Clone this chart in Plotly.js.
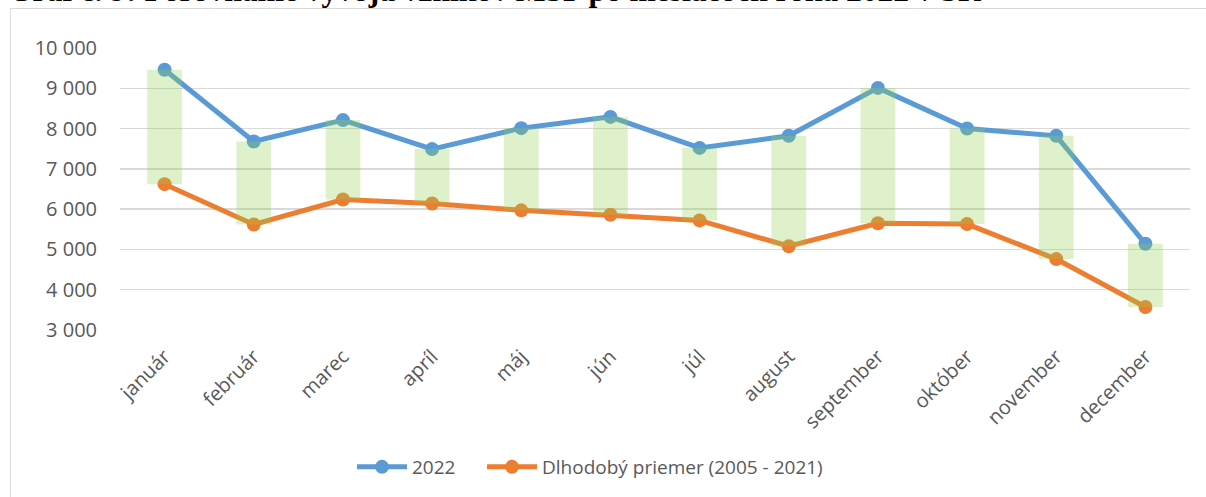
<!DOCTYPE html>
<html>
<head>
<meta charset="utf-8">
<script src="https://cdn.plot.ly/plotly-3.0.1.min.js"></script>
<style>html,body{margin:0;padding:0;background:#fff;}</style>
</head>
<body>
<div id="chart" style="width:1206px;height:497px;"></div>
<script>
const titleText = 'Graf č. 9: Porovnanie vývoja vznikov MSP po mesiacoch roka 2022 v SR';
const months = ['január','február','marec','apríl','máj','jún','júl','august','september','október','november','december'];
const series2022 = [9460, 7680, 8210, 7490, 8010, 8290, 7520, 7820, 9010, 8000, 7820, 5140];
const seriesAvg = [6620, 5620, 6240, 6140, 5970, 5860, 5720, 5080, 5650, 5630, 4760, 3570];
const name2022 = '2022';
const nameAvg = 'Dlhodobý priemer (2005 - 2021)';

const W = 1206, H = 497;
const L = 120, R = 16, T = 48, B = 167;
const pw = W - L - R, ph = H - T - B;
const px = x => (x - L) / pw;
const py = y => (H - B - y) / ph;

const traces = [
  {
    x: months, y: series2022, name: name2022, type: 'scatter', mode: 'lines+markers',
    line: {color: '#5B9BD5', width: 5}, marker: {color: '#5B9BD5', size: 14},
    cliponaxis: false, legend: 'legend'
  },
  {
    x: months, y: seriesAvg, name: nameAvg, type: 'scatter', mode: 'lines+markers',
    line: {color: '#ED7D31', width: 5}, marker: {color: '#ED7D31', size: 14},
    cliponaxis: false, legend: 'legend2'
  },
  {
    x: months, y: series2022.map((v, i) => v - seriesAvg[i]), base: seriesAvg,
    type: 'bar', width: 0.39, xaxis: 'x2', yaxis: 'y2', showlegend: false,
    marker: {color: 'rgba(146,208,80,0.3)', line: {width: 0}}, hoverinfo: 'skip'
  }
];

const tickFont = {family: 'Open Sans, sans-serif', size: 20, color: '#595959'};
const legFont = {family: 'Open Sans, sans-serif', size: 19, color: '#595959'};

const layout = {
  width: W, height: H,
  margin: {l: L, r: R, t: T, b: B, autoexpand: false},
  paper_bgcolor: '#fff', plot_bgcolor: '#fff',
  separators: ', ',
  showlegend: true,
  xaxis: {
    type: 'category', tickangle: -45, tickfont: tickFont, showgrid: false, automargin: false,
    showline: false, zeroline: false, ticks: '', ticklabelstandoff: 10, range: [-0.5, 11.5], fixedrange: true
  },
  xaxis2: {
    type: 'category', overlaying: 'x', matches: 'x', visible: false, range: [-0.5, 11.5]
  },
  yaxis: {
    range: [3000, 10000], dtick: 1000, tick0: 0, tickformat: ',d',
    tickfont: tickFont, automargin: false,
    showgrid: true, gridcolor: '#d9d9d9', gridwidth: 1.5, zeroline: false, showline: false,
    ticks: 'outside', ticklen: 18, tickcolor: 'rgba(0,0,0,0)'
  },
  yaxis2: {
    overlaying: 'y', matches: 'y', visible: false, range: [3000, 10000]
  },
  legend: {
    orientation: 'h', x: px(352), xanchor: 'left', itemwidth: 50,
    y: py(467), yanchor: 'middle', font: legFont, bgcolor: 'rgba(0,0,0,0)'
  },
  legend2: {
    orientation: 'h', x: px(482), xanchor: 'left', itemwidth: 50,
    y: py(467), yanchor: 'middle', font: legFont, bgcolor: 'rgba(0,0,0,0)'
  },
  shapes: [
    {type: 'rect', xref: 'paper', yref: 'paper', x0: px(10.5), x1: px(1215), y0: py(505), y1: py(8.5),
     line: {color: '#d9d9d9', width: 1}, fillcolor: 'rgba(0,0,0,0)', layer: 'below'}
  ],
  annotations: [
    {text: '<b>' + titleText + '</b>', xref: 'paper', yref: 'paper', x: px(6), xanchor: 'left',
     y: 1, yanchor: 'middle', yshift: 58, showarrow: false,
     font: {family: 'Liberation Serif, Times New Roman, serif', size: 31.5, color: '#000'}}
  ]
};

Plotly.newPlot('chart', traces, layout, {displayModeBar: false, staticPlot: true});
</script>
</body>
</html>
